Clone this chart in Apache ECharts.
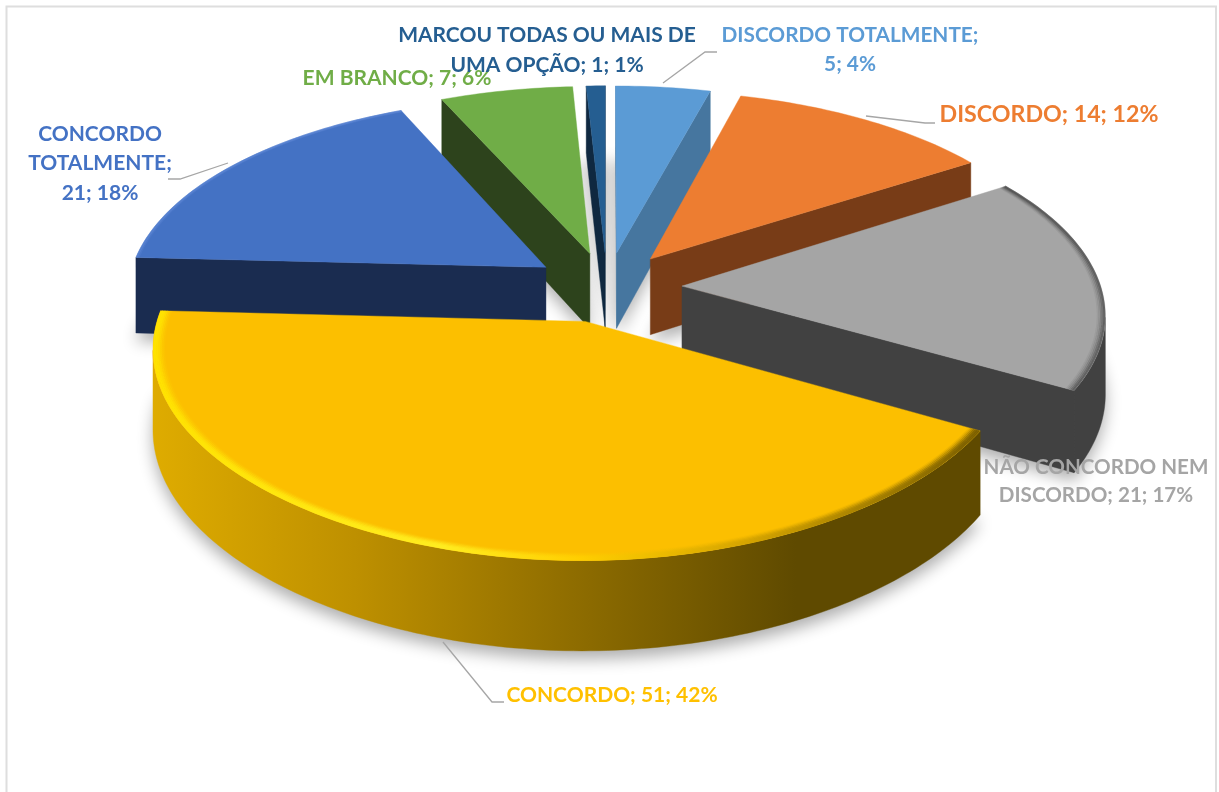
<!DOCTYPE html>
<html>
<head>
<meta charset="utf-8">
<style>html,body{margin:0;padding:0;background:#fff}#chart{width:1219px;height:792px}</style>
<script src="https://cdn.jsdelivr.net/npm/echarts@6/dist/echarts.min.js"></script>
</head>
<body>
<div id="chart"></div>
<script>
// Survey answers, clockwise from twelve o'clock
const categories = ['DISCORDO TOTALMENTE', 'DISCORDO', 'NÃO CONCORDO NEM DISCORDO', 'CONCORDO', 'CONCORDO TOTALMENTE', 'EM BRANCO', 'MARCOU TODAS OU MAIS DE UMA OPÇÃO'];
const counts = [5, 14, 21, 51, 21, 7, 1];
const percents = [4, 12, 17, 42, 18, 6, 1];

// Slice colours
const topColors = ['#5B9BD5', '#ED7D31', '#A5A5A5', '#FCBF00', '#4472C4', '#70AD47', '#255E91'];
const wallColors = ['#46769F', '#783C17', '#414141', '#C49500', '#1A2C50', '#2D431C', '#0F2840'];
const labelColors = ['#5B9BD5', '#ED7D31', '#A5A5A5', '#FFC000', '#4472C4', '#70AD47', '#255E91'];

// Label placement: wrapped lines, centre x, first line y, line gap, font size
const labelLines = [
  ['DISCORDO TOTALMENTE;', '5; 4%'],
  ['DISCORDO; 14; 12%'],
  ['NÃO CONCORDO NEM', 'DISCORDO; 21; 17%'],
  ['CONCORDO; 51; 42%'],
  ['CONCORDO', 'TOTALMENTE;', '21; 18%'],
  ['EM BRANCO; 7; 6%'],
  ['MARCOU TODAS OU MAIS DE', 'UMA OPÇÃO; 1; 1%']
];
const labelCentreX = [850, 1049, 1096, 612, 100, 397, 547];
const labelFirstY = [35, 115, 467, 695, 134, 78, 35];
const labelLineGap = [29, 0, 28, 0, 29.5, 0, 30];
const labelSizes = [20.8, 23.2, 20.6, 21, 21, 21, 21];

// Leader lines from slice to label
const leaderPaths = [
  [[663, 83], [705, 52], [717, 52]],
  [[866, 116], [925, 123], [935, 123]],
  [],
  [[443, 642], [492, 702], [504, 702]],
  [[228, 163], [180, 179], [168, 179]],
  [],
  []
];

// Perspective view of the pie
const view = { cx: 607, cy: 287, radius: 419, height: 77, explode: 75, squash: 0.468, distance: 3320, nearBulge: 0.012 };
const total = counts.reduce((a, b) => a + b, 0);
const rad = d => d * Math.PI / 180;

function project(x, y, z) {
  const s = view.distance / (view.distance - y);
  const bulge = y > 280 ? 1 + view.nearBulge * Math.pow((y - 280) / 192, 2) : 1;
  return [view.cx + x * s, view.cy + y * view.squash * s * bulge - z * s];
}
function sliceAngles(i) {
  let before = 0;
  for (let k = 0; k < i; k++) before += counts[k];
  return [before / total * 360, (before + counts[i]) / total * 360];
}
function signedArea(p) {
  let a = 0;
  for (let i = 0; i < p.length; i++) {
    const q = p[(i + 1) % p.length];
    a += p[i][0] * q[1] - q[0] * p[i][1];
  }
  return a;
}
function globalGradient(x0, x1, stops) {
  return { type: 'linear', x: x0, y: 0, x2: x1, y2: 0, global: true,
    colorStops: stops.map(s => ({ offset: s[0], color: s[1] })) };
}

// Bottom-front wall of the big slice fades from left to right
const bigWallFill = globalGradient(150, 830, [[0, '#DFAC00'], [0.3, '#BE9000'], [0.62, '#8F6D00'], [0.95, '#5F4A00'], [1, '#5F4A00']]);
const bigRimStroke = globalGradient(150, 980, [[0, '#FFE200'], [0.35, '#FFEC20'], [0.52, '#FFCE00'], [0.72, '#D5A400'], [1, '#7A5E00']]);
const rimStrokes = [null, null, '#4A4A4A', bigRimStroke, '#5F88D6', null, null];

function renderSlice(params, api) {
  const i = params.dataIndex;
  api.value(0);
  const [a0, a1] = sliceAngles(i);
  const mid = rad((a0 + a1) / 2);
  const ox = view.explode * Math.sin(mid);
  const oy = -view.explode * Math.cos(mid);
  const base = 100 + Math.round((1 - Math.cos(mid)) * 100) * 10;
  const steps = Math.max(4, Math.ceil(a1 - a0));
  const rimWorld = (r, t) => [ox + r * Math.sin(rad(t)), oy - r * Math.cos(rad(t))];
  const rim = (r, z) => {
    const out = [];
    for (let k = 0; k <= steps; k++) {
      const w = rimWorld(r, a0 + (a1 - a0) * k / steps);
      out.push(project(w[0], w[1], z));
    }
    return out;
  };
  const topArc = rim(view.radius, 0);
  const botArc = rim(view.radius, -view.height);
  const apexTop = project(ox, oy, 0);
  const apexBot = project(ox, oy, -view.height);
  const children = [];
  const poly = (points, fill, z2) => children.push({
    type: 'polygon', z2, shape: { points }, style: { fill, stroke: fill, lineWidth: 0.4 }
  });

  // Soft ground shadow, below every slice
  const shadowPts = botArc.concat([apexBot]).map(p => [p[0], p[1] - 6]);
  children.push({
    type: 'polygon', z2: 1, shape: { points: shadowPts },
    style: { fill: '#E4E4E4', shadowBlur: 16, shadowColor: 'rgba(0,0,0,0.32)', shadowOffsetY: 14 }
  });

  // Radial faces
  const faceA = [apexTop, topArc[0], botArc[0], apexBot];
  const faceB = [topArc[steps], apexTop, apexBot, botArc[steps]];
  if (signedArea(faceA) < 0) poly(faceA, wallColors[i], base);
  if (signedArea(faceB) < 0) poly(faceB, wallColors[i], base);

  // Outer wall: only the part facing the viewer
  let run = null;
  const flush = () => {
    if (run) {
      const pts = run.top.concat(run.bot.reverse());
      poly(pts, i === 3 ? bigWallFill : wallColors[i], base + 1);
    }
    run = null;
  };
  for (let k = 0; k < steps; k++) {
    const quad = [topArc[k], topArc[k + 1], botArc[k + 1], botArc[k]];
    if (signedArea(quad) < 0) {
      if (!run) run = { top: [topArc[k]], bot: [botArc[k]] };
      run.top.push(topArc[k + 1]);
      run.bot.push(botArc[k + 1]);
    } else flush();
  }
  flush();

  // Top surface
  poly([apexTop].concat(topArc), topColors[i], base + 2);

  // Bevelled rim
  if (rimStrokes[i]) {
    const fades = i === 3 ? [1, 1, 0.9, 0.7, 0.45, 0.25, 0.1] : i === 2 ? [0.7, 0.55, 0.35, 0.2, 0.1] : [0.6, 0.25];
    fades.forEach((opacity, n) => children.push({
      type: 'polyline', z2: base + 3, shape: { points: rim(view.radius - 1 - n * 1.6, 0) },
      style: { fill: null, stroke: rimStrokes[i], lineWidth: 2, opacity }
    }));
  }

  // Leader line and label
  if (leaderPaths[i].length) {
    children.push({
      type: 'polyline', z2: 3000, shape: { points: leaderPaths[i] },
      style: { fill: null, stroke: '#A6A6A6', lineWidth: 1.3 }
    });
  }
  labelLines[i].forEach((line, n) => children.push({
    type: 'text', z2: 3000 + i,
    style: {
      text: line, x: labelCentreX[i], y: labelFirstY[i] + n * labelLineGap[i],
      align: 'center', verticalAlign: 'middle', textAlign: 'center', textVerticalAlign: 'middle',
      font: 'bold ' + labelSizes[i] + 'px Lato, "Open Sans", sans-serif', fill: labelColors[i]
    }
  }));
  return { type: 'group', children };
}

const chart = echarts.init(document.getElementById('chart'), null, { renderer: 'canvas' });
chart.setOption({
  backgroundColor: '#fff',
  animation: false,
  graphic: [
    { type: 'polyline', silent: true, shape: { points: [[6.5, 792], [6.5, 6.5], [1216, 6.5], [1216, 792]] }, style: { fill: null, stroke: '#DEDEDE', lineWidth: 2 } }
  ],
  series: [{
    type: 'custom',
    coordinateSystem: 'none',
    silent: true,
    renderItem: renderSlice,
    data: categories.map((name, i) => ({ name, value: [counts[i], percents[i]] }))
  }]
});
</script>
</body>
</html>
